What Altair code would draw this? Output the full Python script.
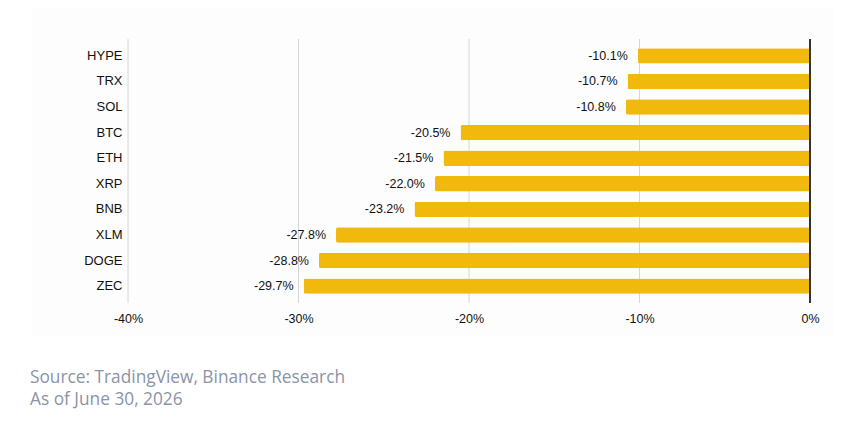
import altair as alt
import pandas as pd

coins = ["HYPE", "TRX", "SOL", "BTC", "ETH", "XRP", "BNB", "XLM", "DOGE", "ZEC"]
returns = [-10.1, -10.7, -10.8, -20.5, -21.5, -22.0, -23.2, -27.8, -28.8, -29.7]
x_ticks = [-40, -30, -20, -10, 0]
grid_ticks = [-40, -30, -20, -10]
footer = ["Source: TradingView, Binance Research", "As of June 30, 2026"]

data = pd.DataFrame({"coin": coins, "ret": returns})
grid = pd.DataFrame({"tick": grid_ticks})

xscale = alt.Scale(domain=[-40, 0], nice=False)

base = alt.Chart(data).encode(
    alt.Y("coin:N").sort(coins).title(None)
    .scale(paddingInner=0.4, paddingOuter=0.36)
    .axis(domain=False, ticks=False, labelPadding=6, labelFontSize=13,
          labelColor="#111111", labelFont="Arial", grid=False, zindex=1),
    alt.X("ret:Q").title(None).scale(xscale)
    .axis(values=x_ticks, domain=False, ticks=False, labelPadding=9,
          labelFontSize=12.5, labelColor="#111111", labelFont="Arial",
          labelFlush=False, labelExpr="datum.value + '%'", grid=False,
          zindex=1),
)

# faint backdrop panel behind the chart
panel = alt.Chart(data).mark_rect(color="#fdfdfd").encode(
    x=alt.value(-96), x2=alt.value(714), y=alt.value(-39), y2=alt.value(296)
)

gridlines = alt.Chart(grid).mark_rule(color="#d6d6d6", strokeWidth=1).encode(
    x=alt.X("tick:Q").scale(xscale)
)

bars = base.mark_bar(color="#F0B90B", cornerRadius=2)

labels = base.transform_calculate(
    label="'-' + format(abs(datum.ret), '.1f') + '%'"
).mark_text(align="right", baseline="middle", dx=-10, fontSize=12.5,
            font="Arial", color="#111111").encode(text="label:N")

zero = alt.Chart(data).mark_rule(color="#333333", strokeWidth=1.2).encode(
    x=alt.datum(0)
)

chart = (panel + gridlines + bars + labels + zero).properties(
    width=682,
    height=264,
    autosize=alt.AutoSizeParams(type="none"),
    padding={"left": 120, "top": 31, "right": 24, "bottom": 111},
    background="white",
    title=alt.TitleParams(
        text=footer, orient="bottom", anchor="start", frame="group",
        dx=-98, offset=34,
        fontSize=17.3, font="Open Sans", fontWeight="normal",
        color="#8a94a6", lineHeight=22,
    ),
).configure_view(stroke=None)

chart.save("out.html", embed_options={"renderer": "svg", "actions": False})
